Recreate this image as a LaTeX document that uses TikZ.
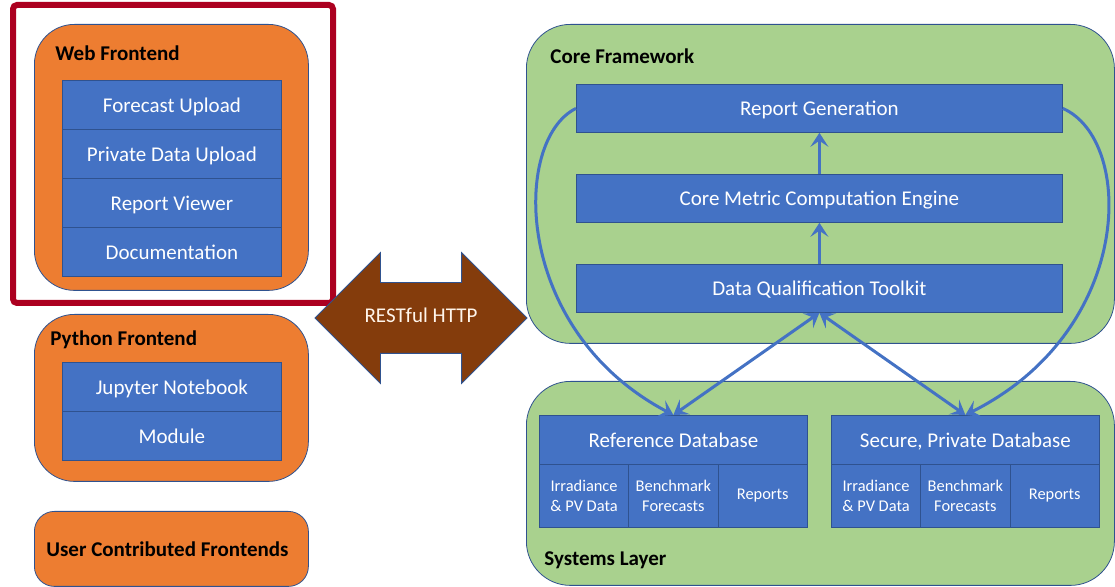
\documentclass[tikz,border=0pt]{standalone}
\usepackage{fontspec}
\setmainfont{Carlito}
\usepackage{tikz}
\usetikzlibrary{arrows.meta,shapes.arrows}
\definecolor{boxorange}{RGB}{237,125,49}
\definecolor{boxblue}{RGB}{68,114,196}
\definecolor{boxgreen}{RGB}{169,209,142}
\definecolor{edgeblue}{RGB}{47,82,143}
\definecolor{restbrown}{RGB}{132,60,12}
\definecolor{markred}{RGB}{172,0,32}

\begin{document}
\begin{tikzpicture}[
    x=0.5pt, y=-0.5pt,
    % Outer groups (frontends and layers)
    group/.style={
        draw=edgeblue,
        thin,
        anchor=north west,
        rounded corners=20pt,
        minimum width=137pt
    },
    % Blue component boxes
    item/.style={
        draw=edgeblue,
        thin,
        fill=boxblue,
        text=white,
        anchor=north west,
        inner sep=0pt,
        text height=9pt,
        text depth=1.5pt,
        font=\fontsize{10.5}{12}\selectfont
    },
    subitem/.style={
        item,
        align=center,
        text height=,
        text depth=,
        minimum width=44.67pt,
        minimum height=31.5pt,
        font=\fontsize{8.2}{9.8}\selectfont
    },
    title/.style={
        anchor=west,
        inner sep=0pt,
        font=\fontsize{10.5}{12}\selectfont\bfseries
    },
    flow/.style={
        draw=boxblue,
        line width=1.5pt,
        -{Stealth[length=7pt,width=9pt,inset=3pt]}
    },
    twoway/.style={
        flow,
        {Stealth[length=7pt,width=9pt,inset=3pt]}-{Stealth[length=7pt,width=9pt,inset=3pt]}
    }
]
    \useasboundingbox (0,0) rectangle (1115,587);

    % --- FRONTENDS (left column) ---
    \node(web)[group, fill=boxorange, minimum height=133pt] at (34,24) {};
    \node(python)[group, fill=boxorange, minimum height=83.5pt] at (34,314) {};
    \node(user)[group, fill=boxorange, minimum height=37.5pt, rounded corners=10pt] at (34,511) {};

    \node(web-title)[title] at (55,53) {Web Frontend};
    \node(python-title)[title] at (50,340) {Python Frontend};
    \node(user-title)[title] at (46,549) {User Contributed Frontends};

    \foreach \txt [count=\i from 0] in {Forecast Upload, Private Data Upload, Report Viewer, Documentation} {
        \node(web-\i)[item, minimum width=109.5pt, minimum height=24.5pt] at (62, {80+\i*49}) {\txt};
    }
    \foreach \txt [count=\i from 0] in {Jupyter Notebook, Module} {
        \node(python-\i)[item, minimum width=109.5pt, minimum height=24.5pt] at (62, {362+\i*49}) {\txt};
    }

    % Highlight frame round the web frontend
    \draw[markred, line width=3pt, rounded corners=2pt] (13,5) rectangle (333,303);

    % --- RESTful HTTP link ---
    \node(rest)[
        double arrow,
        draw=edgeblue,
        thin,
        fill=restbrown,
        text=white!92!orange,
        double arrow head extend=15pt,
        minimum height=106pt,
        inner xsep=0pt,
        inner ysep=13pt,
        text height=7pt,
        text depth=2pt,
        font=\fontsize{10.5}{12}\selectfont
    ] at (421,318) {RESTful HTTP};

    % --- CORE FRAMEWORK ---
    \node(core)[group, fill=boxgreen, minimum width=294pt, minimum height=159.5pt, rounded corners=22pt] at (526,24) {};
    \node(core-title)[title] at (550,56) {Core Framework};

    \node(report)[item, minimum width=243pt, minimum height=24pt] at (576,84) {Report Generation};
    \node(metric)[item, minimum width=243pt, minimum height=24pt] at (576,174) {Core Metric Computation Engine};
    \node(qual)[item, minimum width=243pt, minimum height=24pt] at (576,264) {Data Qualification Toolkit};

    % --- SYSTEMS LAYER ---
    \node(systems)[group, fill=boxgreen, minimum width=294pt, minimum height=102pt, rounded corners=22pt] at (526,381) {};
    \node(systems-title)[title] at (544,560) {Systems Layer};

    \foreach \db/\x/\name in {ref/539/Reference Database, sec/831/{Secure, Private Database}} {
        \node(\db)[item, minimum width=134pt, minimum height=24.5pt] at (\x,415) {\name};
        \foreach \txt [count=\c from 0] in {{Irradiance\\\& PV Data}, {Benchmark\\Forecasts}, Reports} {
            \node(\db-\c)[subitem] at ({\x+\c*89.33}, 464) {\txt};
        }
    }

    % --- DATA FLOW ---
    \draw[flow] (qual.north) -- (metric.south);
    \draw[flow] (metric.north) -- (report.south);
    \draw[twoway] (ref.north) -- (qual.south);
    \draw[twoway] (sec.north) -- (qual.south);
    \draw[flow] (report.west) .. controls (512,140) and (512,330) .. (ref.north);
    \draw[flow] (report.east) .. controls (1135,140) and (1135,330) .. (sec.north);
\end{tikzpicture}
\end{document}
